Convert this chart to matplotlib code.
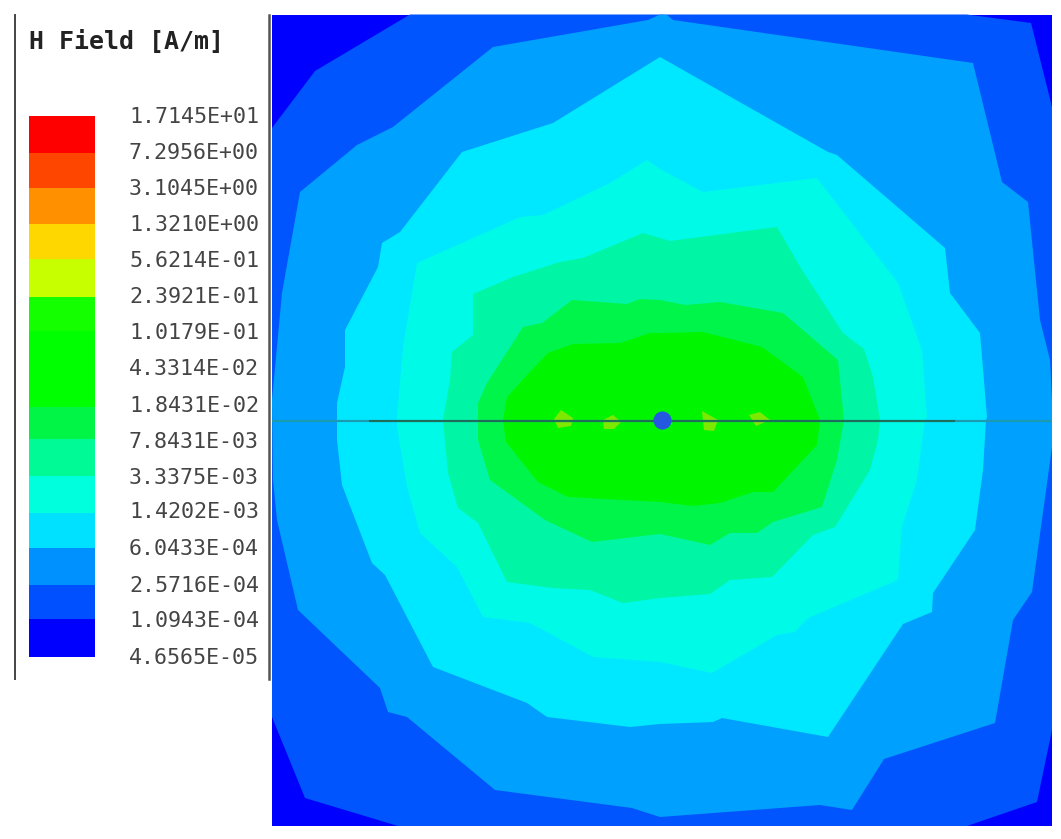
import matplotlib
matplotlib.use('Agg')
import matplotlib.pyplot as plt

# Legend
tick_labels = ['1.7145E+01', '7.2956E+00', '3.1045E+00', '1.3210E+00', '5.6214E-01', '2.3921E-01',
               '1.0179E-01', '4.3314E-02', '1.8431E-02', '7.8431E-03', '3.3375E-03', '1.4202E-03',
               '6.0433E-04', '2.5716E-04', '1.0943E-04', '4.6565E-05']
tick_y = [117, 153, 189, 225, 261, 297, 333, 369, 406, 442, 478, 512, 549, 586, 621, 658]
band_edges = [116, 152.7, 187.7, 224, 259, 297, 331, 369, 407, 439, 476, 513, 548, 585, 619, 657]
band_colors = ['#ff0000', '#ff4600', '#ff9100', '#ffd700', '#c8ff00', '#14ff00', '#00ff00', '#00ff00',
               '#00f546', '#00fa96', '#00ffdc', '#00e1ff', '#0091ff', '#0050ff', '#0000ff']

# Contour outlines, clockwise from top centre (image pixels)
field_box = [(272, 14.5), (1052, 14.5), (1052, 826), (272, 826)]
level_1 = [(410, 14.5), (967, 14.5), (1031, 23), (1052, 107), (1052, 730), (1037, 802), (967, 826),
           (398, 826), (305, 798), (272, 717), (272, 128), (315, 71)]
level_2 = [(660, 14.5), (667, 15), (673, 20), (973, 63), (1002, 182), (1028, 202), (1040, 320), (1050, 360),
           (1052, 400), (1052, 447), (1032, 592), (1013, 620), (995, 723), (884, 759), (852, 810), (820, 805),
           (660, 817), (632, 808), (495, 790), (407, 717), (388, 712), (380, 688), (298, 610), (277, 520),
           (273, 480), (272, 400), (282, 293), (300, 192), (357, 145), (393, 127), (398, 123), (493, 47), (648, 20)]
level_3 = [(660, 57), (828, 152), (837, 155), (945, 248), (950, 293), (980, 333), (987, 417), (986, 420),
           (983, 470), (975, 530), (933, 593), (932, 612), (903, 624), (828, 737), (722, 718), (713, 722),
           (660, 724), (630, 727), (547, 717), (527, 703), (433, 667), (385, 575), (372, 563), (342, 485),
           (337, 440), (337, 403), (345, 367), (345, 330), (378, 267), (382, 243), (400, 232), (462, 152), (553, 123)]
level_4 = [(660, 169), (703, 192), (817, 178), (898, 283), (922, 350), (927, 417), (925, 420), (917, 480),
           (902, 527), (898, 580), (808, 618), (795, 632), (777, 635), (712, 673), (660, 662), (593, 657),
           (530, 623), (483, 617), (457, 567), (420, 533), (407, 487), (397, 427), (397, 417), (403, 347),
           (417, 263), (520, 217), (543, 215), (610, 183), (647, 160)]
level_5 = [(660, 238), (670, 241), (777, 227), (802, 270), (843, 333), (864, 349), (873, 377), (880, 420),
           (878, 440), (870, 470), (835, 527), (813, 535), (772, 577), (730, 580), (710, 594), (660, 598),
           (623, 603), (590, 590), (553, 588), (507, 582), (478, 523), (458, 508), (448, 473), (443, 420),
           (450, 380), (452, 352), (473, 335), (473, 294), (513, 277), (560, 262), (583, 258), (643, 233)]
level_6 = [(660, 300), (685, 305), (720, 302), (783, 313), (838, 360), (844, 420), (837, 460), (822, 507),
           (773, 522), (757, 533), (730, 533), (710, 545), (660, 534), (592, 542), (545, 520), (490, 480),
           (478, 440), (478, 403), (487, 383), (523, 327), (542, 323), (572, 300), (627, 304), (640, 299)]
level_7 = [(660, 333), (703, 332), (762, 347), (803, 377), (820, 420), (817, 445), (773, 492), (753, 492),
           (720, 503), (693, 506), (660, 502), (568, 497), (538, 482), (506, 442), (503, 420), (507, 397),
           (527, 375), (548, 353), (573, 344), (620, 343), (650, 333)]
spot_1 = [(554, 419), (561, 410), (573, 418), (571, 426), (558, 428)]
spot_2 = [(603, 420), (613, 415), (621, 422), (614, 429), (604, 429)]
spot_3 = [(702, 411), (718, 420), (714, 431), (704, 430)]
spot_4 = [(749, 415), (760, 412), (770, 420), (756, 426)]

levels = [field_box, level_1, level_2, level_3, level_4, level_5, level_6, level_7]
level_colors = ['#0000ff', '#0055ff', '#00a0ff', '#00e8ff', '#00fae8', '#00f5a5', '#00f54b', '#00f500']
spots = [spot_1, spot_2, spot_3, spot_4]

fig = plt.figure(figsize=(10.61, 8.39), dpi=100)
ax = fig.add_axes([0, 0, 1, 1])
ax.set_xlim(0, 1061)
ax.set_ylim(839, 0)
ax.axis('off')

for outline, color in zip(levels, level_colors):
    ax.fill(*zip(*outline), color=color, linewidth=0)
for spot in spots:
    ax.fill(*zip(*spot), color='#7de800', linewidth=0)

# antenna line and feed dot
ax.plot([272, 1052], [420.5, 420.5], color='#1a9bb0', lw=1.6, solid_capstyle='butt')
ax.plot([369, 955], [420.5, 420.5], color='#1f6e5a', lw=1.5, solid_capstyle='butt')
ax.scatter([661.5], [420], s=170, color='#2458e0', linewidths=0, zorder=3)

# legend panel
ax.plot([14.5, 14.5], [15, 679], color='#444444', lw=1.4)
ax.plot([269, 269], [15, 679], color='#555555', lw=1.8)
ax.text(29, 42, 'H Field [A/m]', family='DejaVu Sans Mono', weight='bold', fontsize=17.9,
        color='#222222', va='center', ha='left')
for i, color in enumerate(band_colors):
    ax.bar(62, band_edges[i + 1] - band_edges[i], width=66, bottom=band_edges[i], color=color, linewidth=0)
for label, y in zip(tick_labels, tick_y):
    ax.text(129, y, label, family='DejaVu Sans Mono', fontsize=15.6, color='#444444', va='center', ha='left')

fig.savefig('out.png', dpi=100)
